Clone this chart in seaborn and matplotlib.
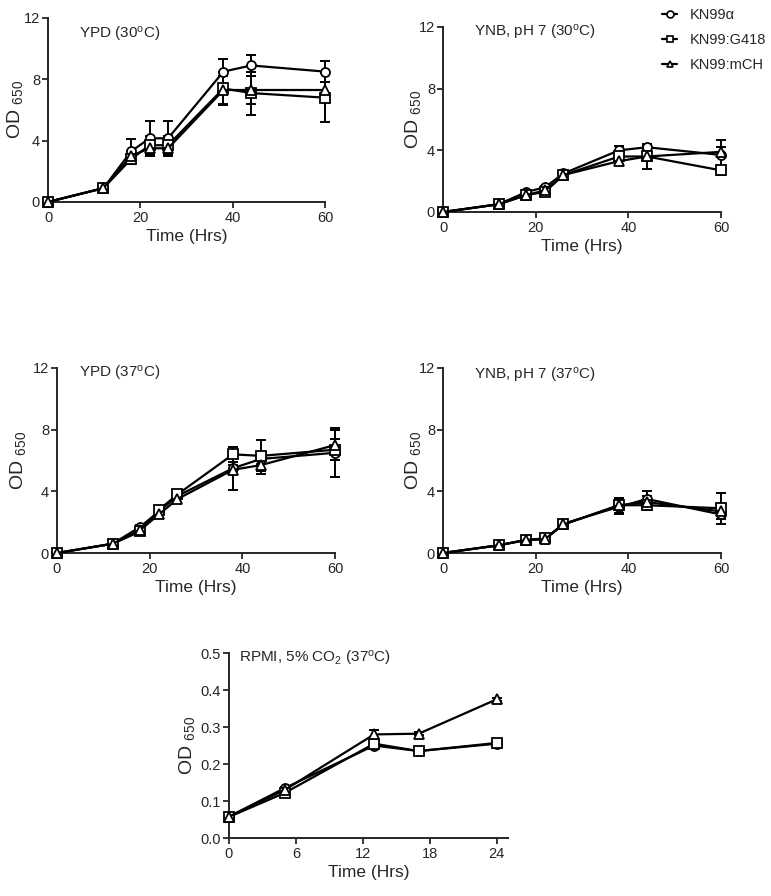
import numpy as np
import pandas as pd
import matplotlib
matplotlib.use('Agg')
import matplotlib.pyplot as plt
from matplotlib.lines import Line2D
import seaborn as sns

# Data
strains = ['KN99\u03b1', 'KN99:G418', 'KN99:mCH']
markers = ['o', 's', '^']

time_long = [0, 12, 18, 22, 26, 38, 44, 60]
time_rpmi = [0, 5, 13, 17, 24]

# YPD 30C
ypd30_wt = [0, 0.9, 3.3, 4.15, 4.15, 8.5, 8.9, 8.5]
ypd30_wt_sd = [0, 0.1, 0.8, 1.1, 1.1, 0.8, 0.7, 0.7]
ypd30_g418 = [0, 0.9, 2.8, 3.7, 3.7, 7.4, 7.1, 6.8]
ypd30_g418_sd = [0, 0.1, 0.3, 0.6, 0.6, 1.1, 1.4, 1.6]
ypd30_mch = [0, 0.9, 3.0, 3.5, 3.5, 7.3, 7.3, 7.3]
ypd30_mch_sd = [0, 0.1, 0.3, 0.5, 0.5, 0.9, 0.9, 0.5]

# YNB pH 7 30C
ynb30_wt = [0, 0.5, 1.3, 1.6, 2.5, 4.0, 4.2, 3.7]
ynb30_wt_sd = [0, 0.05, 0.1, 0.1, 0.1, 0.3, 0.1, 1.0]
ynb30_g418 = [0, 0.5, 1.1, 1.3, 2.4, 3.6, 3.6, 2.7]
ynb30_g418_sd = [0, 0.05, 0.1, 0.1, 0.1, 0.3, 0.8, 0.3]
ynb30_mch = [0, 0.5, 1.1, 1.4, 2.4, 3.3, 3.6, 3.9]
ynb30_mch_sd = [0, 0.05, 0.1, 0.1, 0.1, 0.2, 0.3, 0.3]

# YPD 37C
ypd37_wt = [0, 0.6, 1.7, 2.7, 3.7, 5.5, 6.1, 6.5]
ypd37_wt_sd = [0, 0.05, 0.1, 0.2, 0.2, 1.4, 0.3, 1.6]
ypd37_g418 = [0, 0.6, 1.4, 2.8, 3.8, 6.4, 6.3, 6.7]
ypd37_g418_sd = [0, 0.05, 0.1, 0.2, 0.2, 0.5, 1.0, 0.7]
ypd37_mch = [0, 0.6, 1.5, 2.5, 3.5, 5.4, 5.7, 7.0]
ypd37_mch_sd = [0, 0.05, 0.1, 0.2, 0.2, 0.3, 0.6, 1.0]

# YNB pH 7 37C
ynb37_wt = [0, 0.5, 0.85, 0.9, 1.9, 3.0, 3.5, 2.5]
ynb37_wt_sd = [0, 0.05, 0.1, 0.1, 0.1, 0.5, 0.5, 0.3]
ynb37_g418 = [0, 0.5, 0.85, 0.95, 1.85, 3.1, 3.1, 2.9]
ynb37_g418_sd = [0, 0.05, 0.1, 0.1, 0.1, 0.5, 0.3, 1.0]
ynb37_mch = [0, 0.5, 0.85, 0.9, 1.85, 3.1, 3.3, 2.7]
ynb37_mch_sd = [0, 0.05, 0.1, 0.1, 0.1, 0.5, 0.4, 0.3]

# RPMI 5% CO2 37C
rpmi_wt = [0.058, 0.135, 0.25, 0.235, 0.255]
rpmi_wt_sd = [0.003, 0.004, 0.005, 0.005, 0.005]
rpmi_g418 = [0.057, 0.122, 0.255, 0.235, 0.257]
rpmi_g418_sd = [0.003, 0.004, 0.005, 0.005, 0.005]
rpmi_mch = [0.058, 0.13, 0.28, 0.282, 0.375]
rpmi_mch_sd = [0.003, 0.004, 0.012, 0.004, 0.004]

sns.set_style('ticks')
plt.rcParams['font.family'] = ['Liberation Sans', 'DejaVu Sans']
plt.rcParams['mathtext.fontset'] = 'custom'
plt.rcParams['mathtext.rm'] = 'Liberation Sans'
plt.rcParams['mathtext.default'] = 'regular'

fig = plt.figure(figsize=(7.71, 8.96), dpi=100)

# rect, times, series, sds, title, title pos, ylabel x (axes fraction)
panels = [
    ([0.0623, 0.7746, 0.3593, 0.2054], time_long,
     [ypd30_wt, ypd30_g418, ypd30_mch], [ypd30_wt_sd, ypd30_g418_sd, ypd30_mch_sd],
     'YPD (30$^{o}$C)', (0.11, 0.91), -0.083),
    ([0.5746, 0.7634, 0.3606, 0.2065], time_long,
     [ynb30_wt, ynb30_g418, ynb30_mch], [ynb30_wt_sd, ynb30_g418_sd, ynb30_mch_sd],
     'YNB, pH 7 (30$^{o}$C)', (0.11, 0.97), -0.072),
    ([0.0739, 0.3828, 0.3606, 0.2065], time_long,
     [ypd37_wt, ypd37_g418, ypd37_mch], [ypd37_wt_sd, ypd37_g418_sd, ypd37_mch_sd],
     'YPD (37$^{o}$C)', (0.08, 0.97), -0.105),
    ([0.5746, 0.3828, 0.3606, 0.2065], time_long,
     [ynb37_wt, ynb37_g418, ynb37_mch], [ynb37_wt_sd, ynb37_g418_sd, ynb37_mch_sd],
     'YNB, pH 7 (37$^{o}$C)', (0.11, 0.96), -0.072),
    ([0.2970, 0.0647, 0.3619, 0.2065], time_rpmi,
     [rpmi_wt, rpmi_g418, rpmi_mch], [rpmi_wt_sd, rpmi_g418_sd, rpmi_mch_sd],
     'RPMI, 5% CO$_{2}$ (37$^{o}$C)', (0.035, 0.97), -0.115),
]

for i, (rect, t, series, sds, title, tpos, ylab_x) in enumerate(panels):
    ax = fig.add_axes(rect)
    rows = []
    for name, vals in zip(strains, series):
        for tt, v in zip(t, vals):
            rows.append({'time': tt, 'od': v, 'strain': name})
    df = pd.DataFrame(rows)

    # error bars first, under the markers
    for vals, sd in zip(series, sds):
        ax.errorbar(t, vals, yerr=sd, fmt='none', ecolor='black',
                    elinewidth=1.4, capsize=3.5, capthick=1.4, zorder=2, clip_on=False)

    sns.lineplot(data=df, x='time', y='od', style='strain', style_order=strains,
                 markers=markers, dashes=False, color='black', linewidth=1.6,
                 markersize=6.5, markerfacecolor='white', markeredgecolor='black',
                 markeredgewidth=1.3, legend=False, ax=ax, zorder=3, clip_on=False)

    if i == 4:
        ax.set_xlim(0, 25)
        ax.set_xticks([0, 6, 12, 18, 24])
        ax.set_ylim(0, 0.5)
        ax.set_yticks([0.0, 0.1, 0.2, 0.3, 0.4, 0.5])
        ax.set_yticklabels(['0.0', '0.1', '0.2', '0.3', '0.4', '0.5'])
    else:
        ax.set_xlim(0, 60)
        ax.set_xticks([0, 20, 40, 60])
        ax.set_ylim(0, 12)
        ax.set_yticks([0, 4, 8, 12])

    ax.set_xlabel('Time (Hrs)', fontsize=12.5, labelpad=3)
    ax.set_ylabel('OD $_{650}$', fontsize=14)
    ax.yaxis.set_label_coords(ylab_x, 0.5)
    ax.tick_params(labelsize=10.5, width=1.3, length=4.5, direction='out')
    ax.tick_params(axis='y', pad=1.2)
    ax.tick_params(axis='x', pad=2)
    for s in ['left', 'bottom']:
        ax.spines[s].set_linewidth(1.4)
    sns.despine(ax=ax)
    ax.text(tpos[0], tpos[1], title, transform=ax.transAxes, fontsize=11,
            ha='left', va='center')

handles = [Line2D([], [], color='black', lw=1.6, marker=m, markersize=5,
                  markerfacecolor='white', markeredgecolor='black', markeredgewidth=1.2)
           for m in markers]
fig.legend(handles, strains, loc='upper left', bbox_to_anchor=(0.842, 1.006),
           frameon=False, fontsize=10.5, handlelength=1.0, handletextpad=0.9,
           labelspacing=0.75)

fig.savefig('out.png', dpi=100)
